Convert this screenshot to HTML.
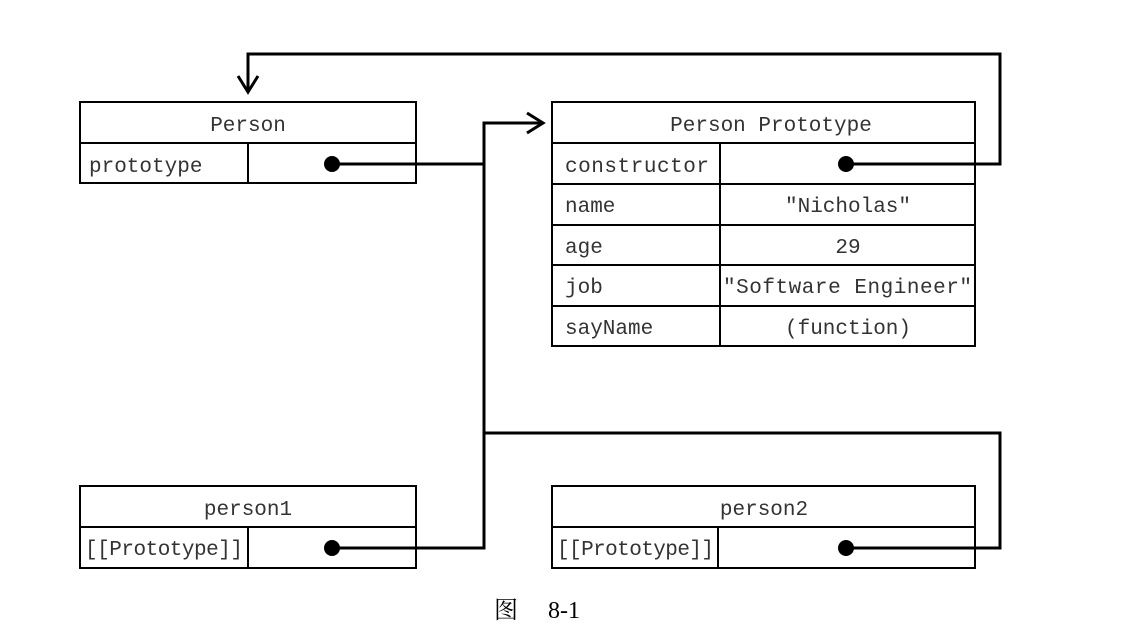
<!DOCTYPE html>
<html><head><meta charset="utf-8"><style>
html,body{margin:0;padding:0;background:#fff;width:1121px;height:628px;overflow:hidden}
text{font-family:"Liberation Mono",monospace;font-size:21px;fill:#333}
</style></head><body>
<svg width="1121" height="628" xmlns="http://www.w3.org/2000/svg">
<g fill="none" stroke="#000" stroke-width="2">
<!-- Person -->
<rect x="80" y="102" width="336" height="81"/>
<line x1="80" y1="143" x2="416" y2="143"/>
<line x1="248" y1="143" x2="248" y2="183"/>
<!-- Prototype -->
<rect x="552" y="102" width="423" height="244"/>
<line x1="552" y1="143" x2="975" y2="143"/>
<line x1="552" y1="184" x2="975" y2="184"/>
<line x1="552" y1="225" x2="975" y2="225"/>
<line x1="552" y1="265" x2="975" y2="265"/>
<line x1="552" y1="306" x2="975" y2="306"/>
<line x1="720" y1="143" x2="720" y2="346"/>
<!-- person1 -->
<rect x="80" y="486" width="336" height="82"/>
<line x1="80" y1="527" x2="416" y2="527"/>
<line x1="248" y1="527" x2="248" y2="568"/>
<!-- person2 -->
<rect x="552" y="486" width="423" height="82"/>
<line x1="552" y1="527" x2="975" y2="527"/>
<line x1="718" y1="527" x2="718" y2="568"/>
</g>
<g fill="none" stroke="#000" stroke-width="3">
<polyline points="332,164 484,164"/>
<polyline points="332,548 484,548 484,123 541,123"/>
<polyline points="527,113 543,123 527,133"/>
<polyline points="846,548 1000,548 1000,433 484,433"/>
<polyline points="846,164 1000,164 1000,54 248,54 248,91"/>
<polyline points="238,76 248,92 258,76"/>
</g>
<g fill="#000">
<circle cx="332" cy="164" r="8"/>
<circle cx="332" cy="548" r="8"/>
<circle cx="846" cy="164" r="8"/>
<circle cx="846" cy="548" r="8"/>
</g>
<text x="248" y="131" text-anchor="middle">Person</text>
<text x="89" y="172">prototype</text>
<text x="771" y="131" text-anchor="middle">Person Prototype</text>
<text x="565" y="172" textLength="144">constructor</text>
<text x="565" y="212">name</text>
<text x="848" y="212" text-anchor="middle">"Nicholas"</text>
<text x="565" y="253">age</text>
<text x="848" y="253" text-anchor="middle">29</text>
<text x="565" y="293">job</text>
<text x="723" y="293" textLength="249">"Software Engineer"</text>
<text x="565" y="334">sayName</text>
<text x="848" y="334" text-anchor="middle">(function)</text>
<text x="248" y="515" text-anchor="middle">person1</text>
<text x="85" y="555" textLength="158">[[Prototype]]</text>
<text x="764" y="515" text-anchor="middle">person2</text>
<text x="557" y="555" textLength="157">[[Prototype]]</text>
<text x="494" y="618" style="font-family:'Liberation Serif','Noto Serif CJK SC',serif;font-size:24px;fill:#000">图</text>
<text x="548" y="618" style="font-family:'Liberation Serif',serif;font-size:24px;fill:#000">8-1</text>
</svg>
</body></html>
